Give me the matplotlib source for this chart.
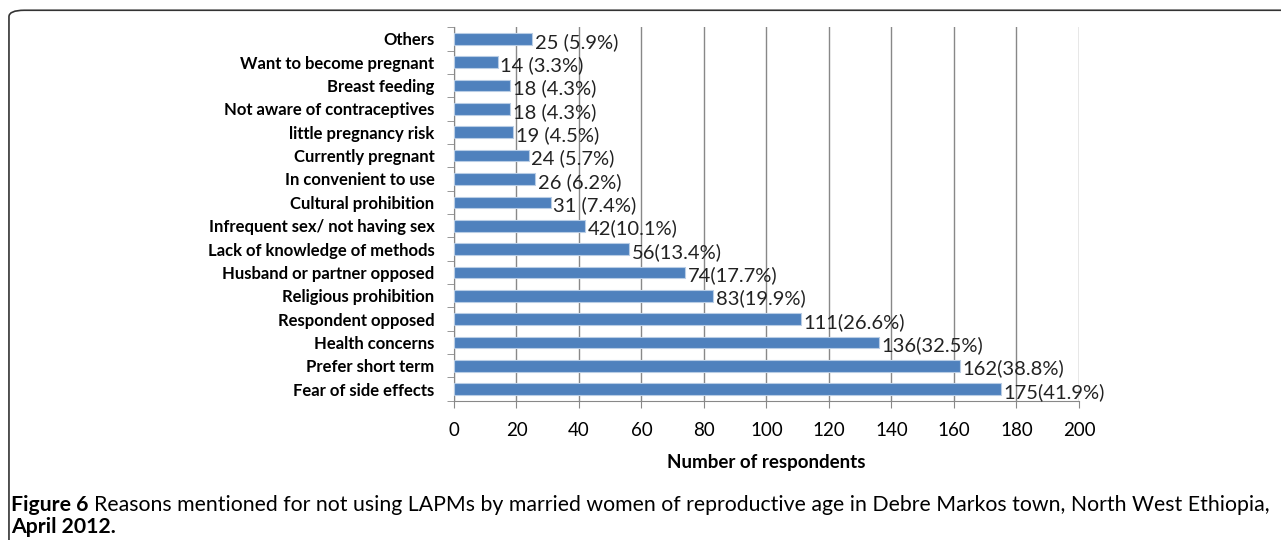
import matplotlib.pyplot as plt
from matplotlib.patches import FancyBboxPatch

reasons = ["Others", "Want to become pregnant", "Breast feeding", "Not aware of contraceptives",
           "little pregnancy risk", "Currently pregnant", "In convenient to use", "Cultural prohibition",
           "Infrequent sex/ not having sex", "Lack of knowledge of methods", "Husband or partner opposed",
           "Religious prohibition", "Respondent opposed", "Health concerns", "Prefer short term",
           "Fear of side effects"]
counts = [25, 14, 18, 18, 19, 24, 26, 31, 42, 56, 74, 83, 111, 136, 162, 175]
value_labels = ["25 (5.9%)", "14 (3.3%)", "18 (4.3%)", "18 (4.3%)", "19 (4.5%)", "24 (5.7%)",
                "26 (6.2%)", "31 (7.4%)", "42(10.1%)", "56(13.4%)", "74(17.7%)", "83(19.9%)",
                "111(26.6%)", "136(32.5%)", "162(38.8%)", "175(41.9%)"]
xticks = [0, 20, 40, 60, 80, 100, 120, 140, 160, 180, 200]
caption_head = "Figure 6"
caption_body = "Reasons mentioned for not using LAPMs by married women of reproductive age in Debre Markos town, North West Ethiopia,"
caption_tail = "April 2012."

plt.rcParams['font.family'] = ['Lato', 'DejaVu Sans']

fig = plt.figure(figsize=(12.81, 5.40), dpi=100)
fig.patches.append(FancyBboxPatch((0.007, -0.05), 1.05, 1.031, boxstyle="round,pad=0,rounding_size=0.012",
                                  transform=fig.transFigure, fill=False, edgecolor="#333333", linewidth=1.2))

ax = fig.add_axes([0.3544, 0.258, 0.4879, 0.6914])
ypos = list(range(len(reasons)))
ax.barh(ypos, counts, height=0.5, color="#4F81BD", edgecolor="#B9CDE5", linewidth=0.8, zorder=3)
for y, c, lab in zip(ypos, counts, value_labels):
    ax.text(c + 0.8, y + 0.12, lab, va="center", ha="left", fontsize=14.5, color="#222222", zorder=4)

ax.set_ylim(len(reasons) - 0.5, -0.5)
ax.set_xlim(0, 200)
ax.set_yticks(ypos)
ax.set_yticklabels(reasons, fontsize=12, fontweight="bold")
ax.set_yticks([i - 0.5 for i in range(len(reasons) + 1)], minor=True)
ax.tick_params(axis="y", which="major", length=0, pad=14)
ax.tick_params(axis="y", which="minor", length=5, color="#888888")
ax.set_xticks(xticks)
ax.set_xticklabels([str(t) for t in xticks], fontsize=13.5)
ax.tick_params(axis="x", length=5, color="#888888", pad=10)
ax.grid(axis="x", color="#888888", linewidth=1, zorder=0)
ax.set_xlabel("Number of respondents", fontsize=13.5, fontweight="bold", labelpad=11)
for s in ["top", "right"]:
    ax.spines[s].set_visible(False)
for s in ["left", "bottom"]:
    ax.spines[s].set_color("#888888")

# caption: fit the first line to the width used in the reference
r = fig.canvas.get_renderer()
head = fig.text(0.0085, 0.054, caption_head, fontsize=14, fontweight="bold", ha="left", va="baseline")
body = fig.text(0.0, 0.054, caption_body, fontsize=14, ha="left", va="baseline")
tail = fig.text(0.0085, 0.013, caption_tail, fontsize=14, fontweight="bold", ha="left", va="baseline")
target = 1274 - 10
w_head = head.get_window_extent(r).width
w_body = body.get_window_extent(r).width
scale = target / (w_head + 6 + w_body)
for t in (head, body, tail):
    t.set_fontsize(14 * scale)
w_head = head.get_window_extent(r).width
body.set_x((10 + w_head + 6 * scale) / fig.bbox.width)

plt.savefig("out.png", dpi=100)
